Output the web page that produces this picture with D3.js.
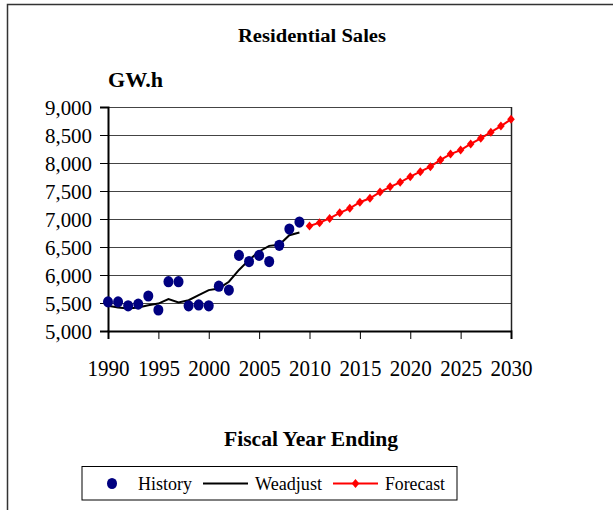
<!DOCTYPE html>
<html>
<head>
<meta charset="utf-8">
<script src="https://cdn.jsdelivr.net/npm/d3@7"></script>
<style>
  body { margin: 0; background: #fff; }
  svg text { font-family: "Liberation Serif", "Times New Roman", serif; fill: #000; }
</style>
</head>
<body>
<div id="chart"></div>
<script>
// Residential Sales chart

// data
var historyYears = d3.range(1990, 2010);
var historyValues = [5520, 5520, 5450, 5480, 5625, 5375, 5880, 5880, 5450, 5465,
                     5450, 5800, 5730, 6350, 6240, 6350, 6240, 6530, 6820, 6945];
var weadjustValues = [5450, 5420, 5400, 5420, 5460, 5490, 5570, 5510, 5550, 5640,
                      5730, 5760, 5880, 6090, 6270, 6420, 6520, 6540, 6710, 6760];
var forecastYears = d3.range(2010, 2031);
var forecastValues = [6875, 6935, 7010, 7110, 7190, 7300, 7370, 7480, 7575, 7655,
                      7755, 7845, 7935, 8055, 8160, 8230, 8340, 8440, 8550, 8660, 8780];
var yTicks = d3.range(5000, 9001, 500);
var xTicks = d3.range(1990, 2031, 5);
var legendNames = ["History", "Weadjust", "Forecast"];

var serif = "'Liberation Serif', 'Times New Roman', serif";
var width = 613, height = 510;
var plot = {left: 108, right: 511, top: 107, bottom: 331};

var svg = d3.select("#chart").append("svg")
    .attr("width", width)
    .attr("height", height);

// outer frame (only top and left edges visible)
svg.append("path")
    .attr("d", "M7.5,510 L7.5,4.5 L613,4.5")
    .attr("fill", "none")
    .attr("stroke", "#333")
    .attr("stroke-width", 1.5);

var x = d3.scaleLinear().domain([1990, 2030]).range([plot.left, plot.right]);
var y = d3.scaleLinear().domain([5000, 9000]).range([plot.bottom, plot.top]);

// gridlines
svg.append("g")
    .selectAll("line")
    .data(yTicks.slice(1))
    .join("line")
    .attr("x1", plot.left).attr("x2", plot.right)
    .attr("y1", function(d){ return y(d) + 0.5; })
    .attr("y2", function(d){ return y(d) + 0.5; })
    .attr("stroke", "#444")
    .attr("stroke-width", 1);

// right border of plot
svg.append("line")
    .attr("x1", plot.right + 0.5).attr("x2", plot.right + 0.5)
    .attr("y1", plot.top).attr("y2", plot.bottom)
    .attr("stroke", "#222").attr("stroke-width", 1.5);

// y axis
var yAxis = svg.append("g")
    .attr("transform", "translate(" + plot.left + ",0)")
    .call(d3.axisLeft(y).tickValues(yTicks).tickSize(8).tickPadding(8)
        .tickFormat(d3.format(",")));
yAxis.attr("font-family", serif);
yAxis.select(".domain").attr("stroke", "#000").attr("stroke-width", 2);
yAxis.selectAll(".tick line").attr("stroke", "#000").attr("stroke-width", 1);
yAxis.selectAll("text")
    .style("font-family", serif)
    .attr("font-size", 21)
    .attr("textLength", 47)
    .attr("lengthAdjust", "spacingAndGlyphs")
    .attr("dy", "0.36em");

// x axis
var xAxis = svg.append("g")
    .attr("transform", "translate(0," + plot.bottom + ")")
    .call(d3.axisBottom(x).tickValues(xTicks).tickSize(8)
        .tickFormat(d3.format("d")));
xAxis.attr("font-family", serif);
xAxis.select(".domain").attr("stroke", "#000").attr("stroke-width", 2);
xAxis.selectAll(".tick line").attr("stroke", "#000").attr("stroke-width", 1);
xAxis.selectAll("text")
    .style("font-family", serif)
    .attr("font-size", 24)
    .attr("textLength", 42)
    .attr("lengthAdjust", "spacingAndGlyphs")
    .attr("y", 45)
    .attr("dy", "0");

// weadjust line
var line = d3.line()
    .x(function(d){ return x(d[0]); })
    .y(function(d){ return y(d[1]); });

svg.append("path")
    .datum(historyYears.map(function(yr, i){ return [yr, weadjustValues[i]]; }))
    .attr("d", line)
    .attr("fill", "none")
    .attr("stroke", "#000")
    .attr("stroke-width", 2);

// history dots
svg.append("g")
    .selectAll("ellipse")
    .data(historyYears.map(function(yr, i){ return [yr, historyValues[i]]; }))
    .join("ellipse")
    .attr("cx", function(d){ return x(d[0]); })
    .attr("cy", function(d){ return y(d[1]); })
    .attr("rx", 5)
    .attr("ry", 5.6)
    .attr("fill", "#000080");

// forecast
var fData = forecastYears.map(function(yr, i){ return [yr, forecastValues[i]]; });
svg.append("path")
    .datum(fData)
    .attr("d", line)
    .attr("fill", "none")
    .attr("stroke", "#ff0000")
    .attr("stroke-width", 2);

var diamond = "M0,-4.5 L3.8,0 L0,4.5 L-3.8,0 Z";
svg.append("g")
    .selectAll("path")
    .data(fData)
    .join("path")
    .attr("transform", function(d){ return "translate(" + x(d[0]) + "," + y(d[1]) + ")"; })
    .attr("d", diamond)
    .attr("fill", "#ff0000");

// titles
svg.append("text")
    .attr("x", 312).attr("y", 42)
    .attr("text-anchor", "middle")
    .attr("font-size", 18).attr("font-weight", "bold")
    .attr("textLength", 148).attr("lengthAdjust", "spacingAndGlyphs")
    .text("Residential Sales");

svg.append("text")
    .attr("x", 108).attr("y", 87)
    .attr("font-size", 21).attr("font-weight", "bold")
    .attr("textLength", 55).attr("lengthAdjust", "spacingAndGlyphs")
    .text("GW.h");

svg.append("text")
    .attr("x", 311).attr("y", 446)
    .attr("text-anchor", "middle")
    .attr("font-size", 21).attr("font-weight", "bold")
    .attr("textLength", 174).attr("lengthAdjust", "spacingAndGlyphs")
    .text("Fiscal Year Ending");

// legend
var lg = svg.append("g");
lg.append("rect")
    .attr("x", 82).attr("y", 466.5)
    .attr("width", 375).attr("height", 33.5)
    .attr("fill", "#fff")
    .attr("stroke", "#000").attr("stroke-width", 1);

lg.append("ellipse")
    .attr("cx", 112).attr("cy", 483.5)
    .attr("rx", 5).attr("ry", 5.6)
    .attr("fill", "#000080");

lg.append("line")
    .attr("x1", 203).attr("x2", 248)
    .attr("y1", 483.5).attr("y2", 483.5)
    .attr("stroke", "#000").attr("stroke-width", 2);

lg.append("line")
    .attr("x1", 333).attr("x2", 378)
    .attr("y1", 483.5).attr("y2", 483.5)
    .attr("stroke", "#ff0000").attr("stroke-width", 2);
lg.append("path")
    .attr("transform", "translate(355.5,483.5)")
    .attr("d", diamond)
    .attr("fill", "#ff0000");

var legendX = [138, 255, 385];
var legendW = [54, 67, 60];
lg.selectAll("text.leg")
    .data(legendNames)
    .join("text")
    .attr("class", "leg")
    .attr("x", function(d, i){ return legendX[i]; })
    .attr("y", 490)
    .attr("font-size", 19)
    .attr("textLength", function(d, i){ return legendW[i]; })
    .attr("lengthAdjust", "spacingAndGlyphs")
    .text(function(d){ return d; });
</script>
</body>
</html>
